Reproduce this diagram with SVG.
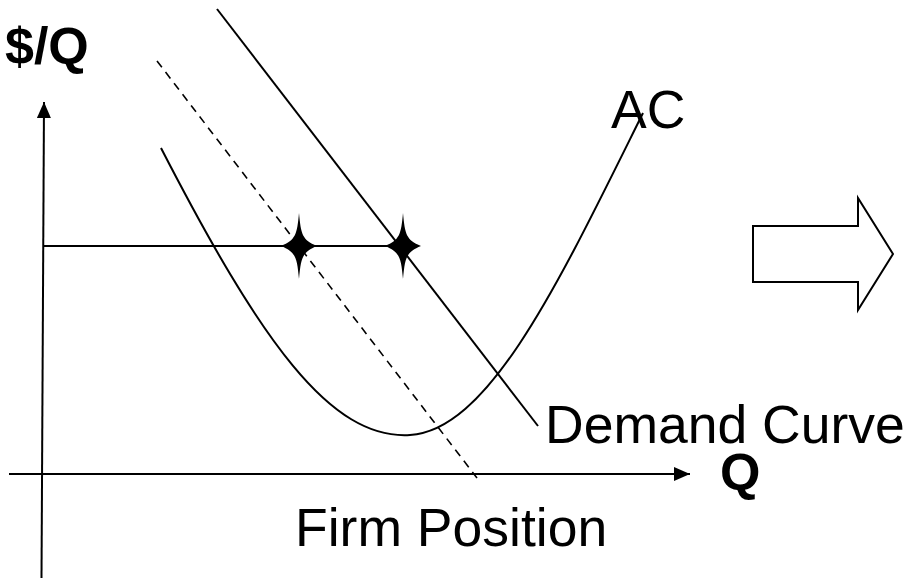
<svg xmlns="http://www.w3.org/2000/svg" width="904" height="580" viewBox="0 0 904 580">
<style>
.ln{fill:none;stroke:#000;stroke-width:2}
.t{font-family:"Liberation Sans",Arial,sans-serif;fill:#000}
.b{font-weight:bold;font-size:52px}
.r{font-size:53.5px}
</style>
<defs>
<marker id="ah" viewBox="0 0 16 14" refX="16" refY="7" markerWidth="16" markerHeight="14" markerUnits="userSpaceOnUse" orient="auto">
<path d="M0,0 L16,7 L0,14 Z" fill="#000"/>
</marker>
</defs>
<rect width="904" height="580" fill="#fff"/>
<g id="connectors">
<line class="ln" x1="41.5" y1="578" x2="44" y2="102" marker-end="url(#ah)"/>
<line class="ln" x1="9" y1="474" x2="690" y2="474" marker-end="url(#ah)"/>
<line class="ln" x1="43" y1="246" x2="403" y2="246"/>
<line class="ln" x1="217" y1="9" x2="538" y2="426"/>
<line class="ln" x1="157" y1="61" x2="477" y2="478" stroke-dasharray="8,6" style="stroke-width:1.6"/>
<path class="ln" d="M161,148 C260,340 330,440 410,435 C490,430 560,280 643,113"/>
</g>
<g id="star1">
<path d="M299,213 C301,234 302,240 317,246 C302,252 301,258 299,279 C297,258 296,252 281,246 C296,240 297,234 299,213 Z" fill="#000"/>
</g>
<g id="star2">
<path d="M403,213 C405,234 406,240 421,246 C406,252 405,258 403,279 C401,258 400,252 385,246 C400,240 401,234 403,213 Z" fill="#000"/>
</g>
<g id="block-arrow">
<path d="M753,226 L858,226 L858,198 L893,254 L858,310 L858,282 L753,282 Z" fill="#fff" stroke="#000" stroke-width="2"/>
</g>
<g id="labels">
<text class="t b" x="5" y="64">$/Q</text>
<text class="t b" x="720" y="490">Q</text>
<text class="t r" x="611" y="128">AC</text>
<text class="t r" x="545" y="443">Demand Curve</text>
<text class="t r" x="295" y="546">Firm Position</text>
</g>
</svg>
